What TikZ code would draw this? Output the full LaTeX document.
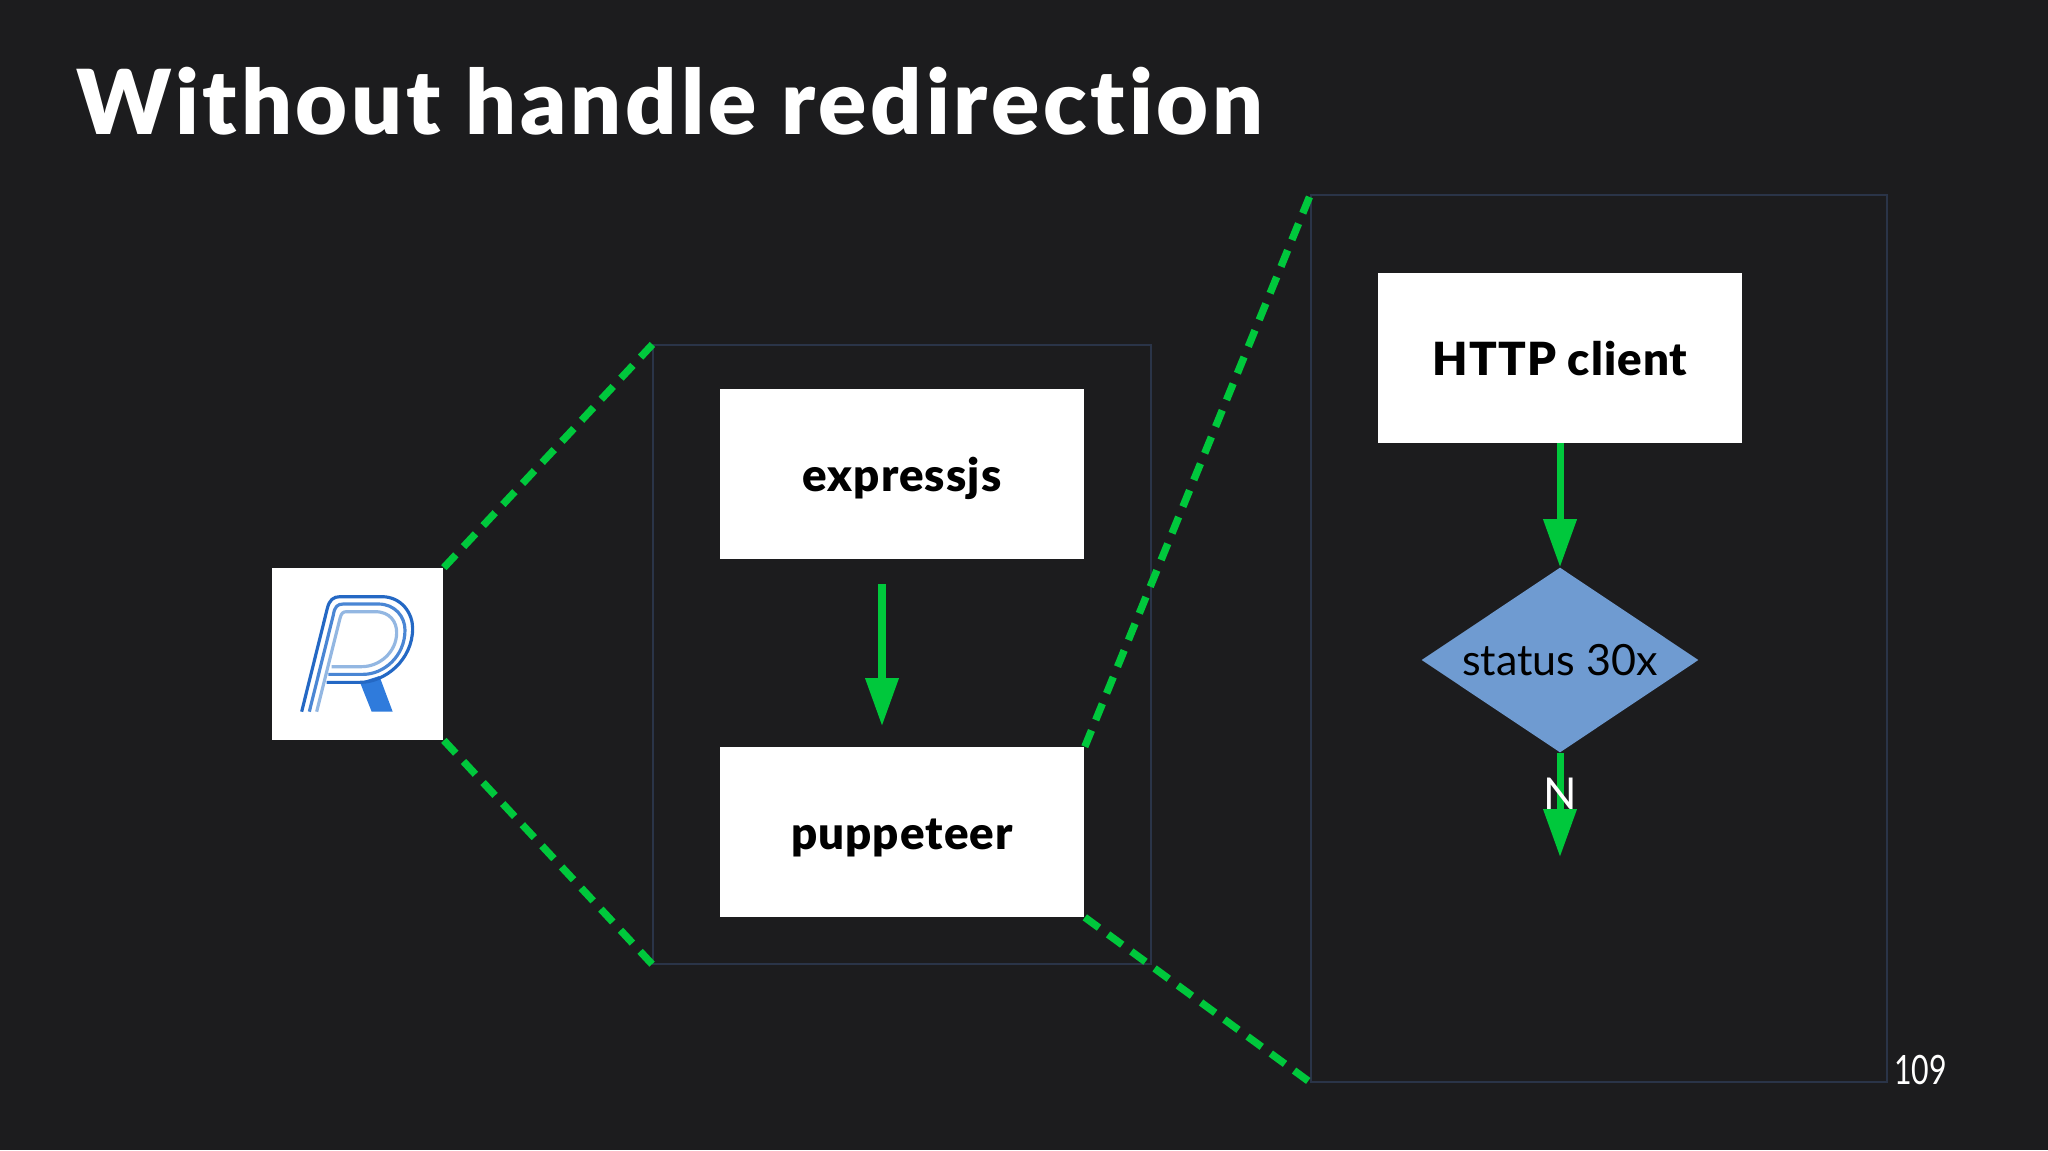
\documentclass[tikz,border=0pt]{standalone}
\usepackage{xcolor}
\usepackage{fontspec}
\setmainfont{Lato}
\newfontfamily\gruesa[LetterSpace=2.4,Ligatures=NoCommon]{Lato Black}
\newfontfamily\titular[LetterSpace=4.3,Ligatures=NoCommon]{Lato Black}
\usepackage{tikz}
\usetikzlibrary{shapes.geometric,arrows.meta}
\definecolor{fondo}{HTML}{1C1C1E}
\definecolor{verde}{HTML}{00C83C}
\definecolor{marco}{HTML}{2A3448}
\definecolor{rombo}{HTML}{6F9BD1}
\definecolor{logoA}{HTML}{2468C4}
\definecolor{logoB}{HTML}{4A86D4}
\definecolor{logoC}{HTML}{93B7E2}
\definecolor{logoD}{HTML}{2F7BDC}
\tikzset{
	caja/.style={draw=none,fill=white,text=black,font=\fontsize{26}{30}\selectfont\gruesa,minimum width=7.3cm,minimum height=3.4cm,inner sep=0pt,text height=20pt,text depth=0pt},
	panel/.style={draw=marco,line width=0.7pt,inner sep=0pt},
	flecha/.style={draw=verde,line width=4pt,-{Triangle[length=0.96cm,width=0.64cm,fill=verde]}},
	enlace/.style={draw=verde,line width=4.2pt,dash pattern=on 10pt off 6.4pt},
	trazo/.style={line width=1.8pt,line cap=butt,line join=round}
}
\begin{document}
\begin{tikzpicture}[x=0.02cm,y=-0.02cm]
	\useasboundingbox[fill=fondo] (0,0) rectangle (2048,1150);
	% titulo y numero
	\node[anchor=west,text=white,inner sep=0pt,font=\fontsize{51}{56}\selectfont\titular] (titulo) at (76,101) {Without handle redirection};
	\node[anchor=west,text=white,inner sep=0pt,font=\fontsize{23}{26}\selectfont] (numero) at (1894,1069.5) {\scalebox{0.75}[1]{109}};
	% marcos
	\node[panel,minimum width=9.96cm,minimum height=12.38cm] (panelA) at (902,654.5) {};
	\node[panel,minimum width=11.52cm,minimum height=17.74cm] (panelB) at (1599,638.5) {};
	% cajas
	\node[fill=white,minimum width=3.44cm,minimum height=3.44cm,inner sep=0pt] (logo) at (357.5,654) {};
	\node[caja] (express) at (902,474) {expressjs};
	\node[caja] (puppeteer) at (902,832) {puppeteer};
	\node[caja] (http) at (1560,358) {HTTP client};
	\node[diamond,aspect=1.5,fill=rombo,text=black,minimum width=5.54cm,minimum height=3.7cm,inner sep=0pt,font=\fontsize{24.5}{28}\selectfont] (status) at (1560,660) {status 30x};
	% extremos libres
	\coordinate (ini) at (882,584);
	\coordinate (fin) at (882,726);
	\coordinate (salida) at (1560,857);
	% flechas
	\draw[flecha] (ini) -- (fin);
	\draw[flecha] (http) -- (status);
	\draw[flecha] (status) -- (salida);
	\node[text=white,inner sep=0pt,font=\fontsize{25}{28}\selectfont] (no) at (1560,794) {N};
	% lineas punteadas
	\foreach \a/\b in {logo.north east/panelA.north west,logo.south east/panelA.south west,puppeteer.north east/panelB.north west,puppeteer.south east/panelB.south west} {
		\draw[enlace] (\a) -- (\b);
	}
	% logo
	\begin{scope}[shift={(250,550)},x=0.00667cm,y=-0.00667cm]
		\fill[logoD] (330,397) -- (388,378) -- (428,485) -- (365,485) -- cycle;
		\draw[trazo,logoC] (200,485) -- (270,205) .. controls (274,190) and (278,185) .. (290,185) -- (375,185) .. controls (420,185) and (440,215) .. (440,248) .. controls (440,305) and (390,350) .. (335,350) -- (245,350);
		\draw[trazo,logoB] (178,485) -- (250,195) .. controls (254,170) and (262,162) .. (280,162) -- (385,162) .. controls (435,162) and (465,200) .. (465,240) .. controls (465,320) and (400,373) .. (340,373) -- (235,373);
		\draw[trazo,logoA] (155,485) -- (232,175) .. controls (238,150) and (250,140) .. (270,140) -- (395,140) .. controls (455,140) and (488,190) .. (488,235) .. controls (488,330) and (405,397) .. (330,397) -- (230,397);
	\end{scope}
\end{tikzpicture}
\end{document}
